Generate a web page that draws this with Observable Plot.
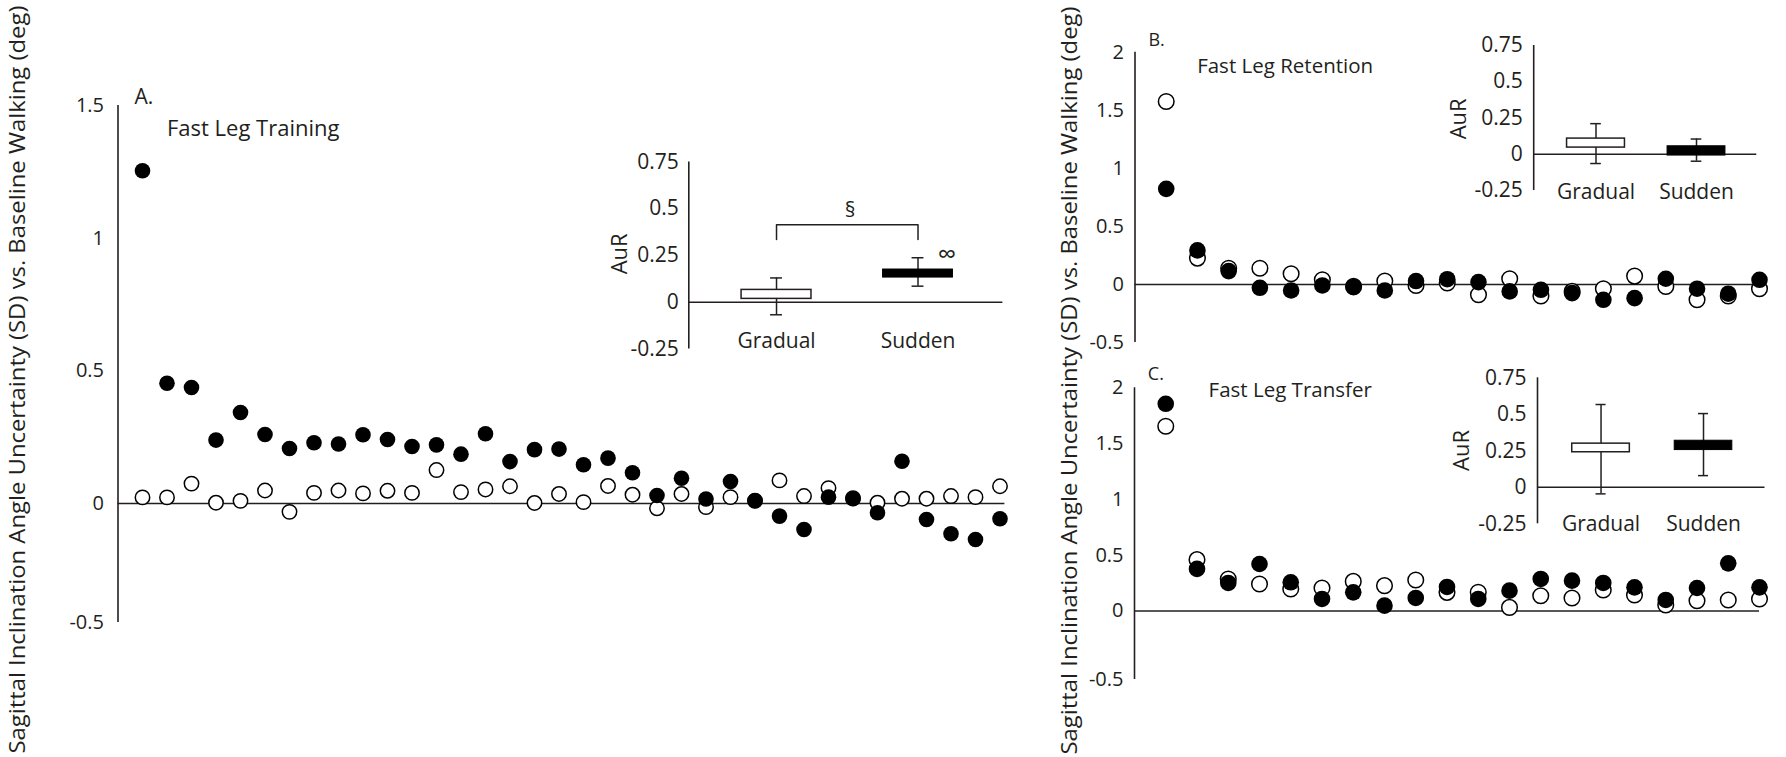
<!DOCTYPE html>
<html>
<head>
<meta charset="utf-8">
<script src="https://cdn.jsdelivr.net/npm/d3@7"></script>
<script src="https://cdn.jsdelivr.net/npm/@observablehq/plot@0.6"></script>
<style>
  html, body { margin: 0; padding: 0; background: #ffffff; }
  #fig { position: relative; width: 1786px; height: 757px; overflow: hidden; background: #ffffff; }
  #fig svg { position: absolute; left: 0; top: 0; }
</style>
</head>
<body>
<div id="fig"></div>
<script>
// ---------------- DATA ----------------
const yTitle = "Sagittal Inclination Angle Uncertainty (SD) vs. Baseline Walking (deg)";
const groups = ["Gradual", "Sudden"];
const mainTicksA = [-0.5, 0, 0.5, 1, 1.5];
const mainTicksBC = [-0.5, 0, 0.5, 1, 1.5, 2];
const insetTicks = [-0.25, 0, 0.25, 0.5, 0.75];

// A. Fast Leg Training (36 bins)
const trainingGradual = [0.023, 0.023, 0.075, 0.003, 0.010, 0.049, -0.035, 0.040, 0.049, 0.038, 0.048, 0.040,
  0.126, 0.043, 0.053, 0.065, 0.002, 0.036, 0.005, 0.066, 0.033, -0.020, 0.036, -0.015,
  0.024, 0.010, 0.087, 0.028, 0.058, 0.020, 0.003, 0.018, 0.018, 0.028, 0.024, 0.065];
const trainingSudden = [1.254, 0.453, 0.437, 0.239, 0.343, 0.260, 0.207, 0.229, 0.224, 0.259, 0.241, 0.215,
  0.221, 0.186, 0.263, 0.158, 0.203, 0.205, 0.146, 0.171, 0.116, 0.030, 0.095, 0.017,
  0.083, 0.011, -0.053, -0.109, 0.024, 0.018, -0.039, 0.159, -0.067, -0.127, -0.151, -0.064];

// B. Fast Leg Retention (20 bins)
const retentionGradual = [1.575, 0.227, 0.140, 0.140, 0.092, 0.040, -0.017, 0.029, -0.009, 0.013,
  -0.089, 0.049, -0.100, -0.060, -0.037, 0.072, -0.017, -0.132, -0.100, -0.037];
const retentionSudden = [0.823, 0.293, 0.115, -0.029, -0.052, -0.009, -0.023, -0.052, 0.029, 0.045,
  0.020, -0.060, -0.046, -0.075, -0.132, -0.118, 0.049, -0.037, -0.080, 0.040];

// C. Fast Leg Transfer (20 bins)
const transferGradual = [1.656, 0.460, 0.287, 0.242, 0.197, 0.206, 0.265, 0.227, 0.278, 0.167,
  0.167, 0.032, 0.137, 0.117, 0.188, 0.143, 0.054, 0.092, 0.099, 0.108];
const transferSudden = [1.857, 0.377, 0.251, 0.421, 0.257, 0.108, 0.167, 0.048, 0.117, 0.215,
  0.108, 0.182, 0.287, 0.272, 0.251, 0.212, 0.099, 0.206, 0.427, 0.212];

// Inset AuR: box [low, high] and whisker [low, high] for Gradual, Sudden
const aurTrainingBox = [[0.018, 0.066], [0.132, 0.175]];
const aurTrainingWhisker = [[-0.067, 0.130], [0.086, 0.238]];
const aurRetentionBox = [[0.046, 0.108], [-0.009, 0.055]];
const aurRetentionWhisker = [[-0.064, 0.211], [-0.048, 0.105]];
const aurTransferBox = [[0.240, 0.299], [0.255, 0.319]];
const aurTransferWhisker = [[-0.045, 0.567], [0.080, 0.505]];

// ---------------- DRAWING ----------------
const W = 1786, H = 757;
const ink = "#231f20";
const svgStyle = "background:transparent;overflow:visible;font-family:'Open Sans',sans-serif;color:#231f20";
const fig = document.getElementById("fig");

// The original axes stretch the negative part differently from the positive part:
// a scale transform reproduces that (k = length of a negative unit relative to a positive one).
function mainPanel(cfg) {
  const gradual = cfg.gradual.map((v, i) => ({trial: i + 1, v}));
  const sudden = cfg.sudden.map((v, i) => ({trial: i + 1, v}));
  const k = cfg.negStretch;
  const fwd = v => (v < 0 ? v * k : v);
  const inv = t => (t < 0 ? +(t / k).toFixed(3) : t);
  return Plot.plot({
    width: W, height: H,
    marginLeft: cfg.xRange[0], marginRight: 0, marginTop: 0, marginBottom: 0,
    style: svgStyle,
    x: {domain: cfg.xDomain, range: cfg.xRange, axis: null},
    y: {domain: [fwd(cfg.yMin), cfg.yMax], range: cfg.yRange, transform: fwd},
    marks: [
      Plot.ruleX([cfg.xDomain[0]], {y1: cfg.yMin, y2: cfg.yMax, stroke: ink, strokeWidth: 1.6}),
      Plot.ruleY([0], {x1: cfg.xDomain[0], x2: cfg.xDomain[1], stroke: ink, strokeWidth: 1.6}),
      // axis ticks are placed in the transformed space, labelled with their original values
      Plot.axisY({ticks: cfg.ticks.map(fwd), tickSize: 0, tickPadding: cfg.pad, tickFormat: t => String(inv(t)),
        fontSize: cfg.tickFont, label: null}),
      Plot.dot(gradual, {x: "trial", y: "v", r: cfg.rOpen, fill: "white", stroke: "black", strokeWidth: 1.5}),
      Plot.dot(sudden, {x: "trial", y: "v", r: cfg.rFill, fill: "black"}),
      Plot.text([cfg.letter], {x: cfg.letterAt[0], y: cfg.letterAt[1], textAnchor: "start", fontSize: cfg.letterFont, fill: ink}),
      Plot.text([cfg.title], {x: cfg.titleAt[0], y: cfg.titleAt[1], textAnchor: "start", fontSize: cfg.titleFont, fill: ink}),
      ...(cfg.yTitleAt ? [Plot.text([yTitle], {x: cfg.yTitleAt[0], y: cfg.yTitleAt[1], rotate: -90, fontSize: 22, fill: ink})] : [])
    ]
  });
}

const insetXDomain = [0.38, 2.6];
function insetPanel(cfg) {
  const rows = groups.map((g, i) => ({group: g, pos: i + 1,
    lo: cfg.box[i][0], hi: cfg.box[i][1], wlo: cfg.whisker[i][0], whi: cfg.whisker[i][1]}));
  const extra = [];
  if (cfg.bracket) {
    const b = cfg.bracket;
    extra.push(Plot.line([{p: 1, v: b.leg}, {p: 1, v: b.top}, {p: 2, v: b.top}, {p: 2, v: b.leg}],
      {x: "p", y: "v", stroke: ink, strokeWidth: 1.5}));
    extra.push(Plot.text(["§"], {x: 1.52, y: 0.49, fontSize: 21, fill: ink}));
    extra.push(Plot.text(["∞"], {x: 2.205, y: 0.252, fontSize: 26, fill: ink}));
  }
  return Plot.plot({
    width: W, height: H,
    marginLeft: cfg.xRange[0], marginRight: 0, marginTop: 0, marginBottom: H - cfg.labelTop,
    style: svgStyle,
    x: {domain: insetXDomain, range: cfg.xRange},
    y: {domain: [-0.25, 0.75], range: cfg.yRange},
    marks: [
      Plot.ruleX([insetXDomain[0]], {y1: -0.25, y2: 0.75, stroke: ink, strokeWidth: 1.6}),
      Plot.ruleY([0], {x1: insetXDomain[0], x2: insetXDomain[1], stroke: ink, strokeWidth: 1.6}),
      Plot.axisY({ticks: insetTicks, tickSize: 0, tickPadding: cfg.pad, tickFormat: d => String(d),
        fontSize: 21, label: null}),
      Plot.axisX({ticks: [1, 2], tickFormat: d => groups[d - 1], tickSize: 0, tickPadding: 0,
        fontSize: 21, label: null}),
      Plot.ruleX(rows, {x: "pos", y1: "wlo", y2: "whi", stroke: ink, strokeWidth: 1.5}),
      Plot.ruleY(rows, {y: "whi", x1: d => d.pos - cfg.cap, x2: d => d.pos + cfg.cap, stroke: ink, strokeWidth: 1.5}),
      Plot.ruleY(rows, {y: "wlo", x1: d => d.pos - cfg.cap, x2: d => d.pos + cfg.cap, stroke: ink, strokeWidth: 1.5}),
      Plot.rect(rows.filter(d => d.group === "Gradual"), {x1: d => d.pos - cfg.half, x2: d => d.pos + cfg.half,
        y1: "lo", y2: "hi", fill: "white", stroke: ink, strokeWidth: 1.5}),
      Plot.rect(rows.filter(d => d.group === "Sudden"), {x1: d => d.pos - cfg.half, x2: d => d.pos + cfg.half,
        y1: "lo", y2: "hi", fill: "black", stroke: "black", strokeWidth: 1}),
      Plot.text(["AuR"], {x: cfg.aurAt[0], y: cfg.aurAt[1], rotate: -90, fontSize: 22, fill: ink}),
      ...extra
    ]
  });
}

const charts = [
  mainPanel({
    gradual: trainingGradual, sudden: trainingSudden,
    xDomain: [0, 36.2], xRange: [117.5, 1004.4],
    yMin: -0.5, yMax: 1.5, negStretch: 0.897, yRange: [622, 105],
    ticks: mainTicksA, pad: 14, tickFont: 20, rOpen: 7.2, rFill: 7.8,
    letter: "A.", letterAt: [0.67, 1.532], letterFont: 21,
    title: "Fast Leg Training", titleAt: [2.0, 1.413], titleFont: 22,
    yTitleAt: [-4.1, 0.467]
  }),
  insetPanel({
    box: aurTrainingBox, whisker: aurTrainingWhisker,
    xRange: [688.3, 1002.4], yRange: [348.5, 161.5], labelTop: 332.5,
    pad: 10, half: 0.247, cap: 0.042, aurAt: [-0.107, 0.259],
    bracket: {top: 0.415, leg: 0.336}
  }),
  mainPanel({
    gradual: retentionGradual, sudden: retentionSudden,
    xDomain: [0, 20], xRange: [1134.5, 1759],
    yMin: -0.5, yMax: 2, negStretch: 1, yRange: [342, 51.7],
    ticks: mainTicksBC, pad: 11, tickFont: 20, rOpen: 7.8, rFill: 8.3,
    letter: "B.", letterAt: [0.43, 2.106], letterFont: 18,
    title: "Fast Leg Retention", titleAt: [1.99, 1.875], titleFont: 20.5,
    yTitleAt: [-2.098, -0.827]
  }),
  insetPanel({
    box: aurRetentionBox, whisker: aurRetentionWhisker,
    xRange: [1533.2, 1756.3], yRange: [190, 45], labelTop: 184,
    pad: 11, half: 0.288, cap: 0.053, aurAt: [-0.365, 0.244]
  }),
  mainPanel({
    gradual: transferGradual, sudden: transferSudden,
    xDomain: [0, 20], xRange: [1134, 1759],
    yMin: -0.5, yMax: 2, negStretch: 1.228, yRange: [679, 387.3],
    ticks: mainTicksBC, pad: 11, tickFont: 20, rOpen: 7.8, rFill: 8.3,
    letter: "C.", letterAt: [0.426, 2.124], letterFont: 18,
    title: "Fast Leg Transfer", titleAt: [2.37, 1.976], titleFont: 20.5
  }),
  insetPanel({
    box: aurTransferBox, whisker: aurTransferWhisker,
    xRange: [1537, 1764.5], yRange: [523.3, 377.3], labelTop: 515.7,
    pad: 11, half: 0.281, cap: 0.049, aurAt: [-0.354, 0.252]
  })
];
for (const c of charts) fig.appendChild(c);

// Fit the long axis titles to the measured length of the reference
d3.select(fig).selectAll("text")
  .filter(function () { return this.textContent === yTitle; })
  .attr("textLength", 748)
  .attr("lengthAdjust", "spacingAndGlyphs");
</script>
</body>
</html>
